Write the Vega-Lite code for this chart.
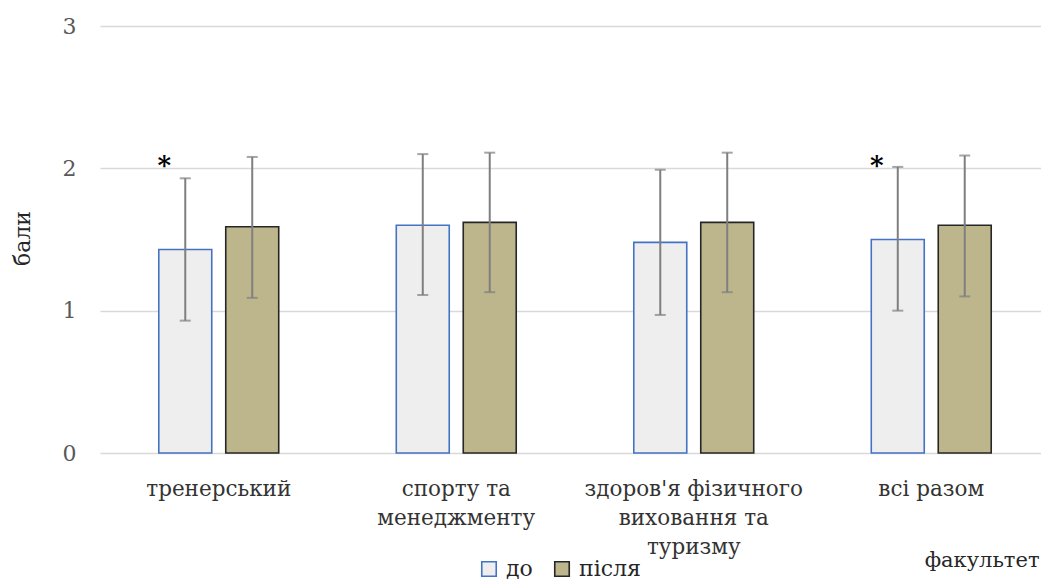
{
  "$schema": "https://vega.github.io/schema/vega-lite/v6.json",
  "width": 941,
  "height": 427,
  "autosize": {"type": "none"},
  "padding": {"left": 100, "top": 26, "right": 0, "bottom": 129},
  "background": "white",
  "config": {
    "view": {"stroke": null},
    "font": "DejaVu Serif"
  },
  "data": {
    "values": [
      {"faculty": "тренерський", "period": "до", "mean": 1.43, "lo": 0.93, "hi": 1.93, "star": "*"},
      {"faculty": "тренерський", "period": "після", "mean": 1.59, "lo": 1.09, "hi": 2.08, "star": ""},
      {"faculty": "спорту та менеджменту", "period": "до", "mean": 1.60, "lo": 1.11, "hi": 2.10, "star": ""},
      {"faculty": "спорту та менеджменту", "period": "після", "mean": 1.62, "lo": 1.13, "hi": 2.11, "star": ""},
      {"faculty": "здоров'я фізичного виховання та туризму", "period": "до", "mean": 1.48, "lo": 0.97, "hi": 1.99, "star": ""},
      {"faculty": "здоров'я фізичного виховання та туризму", "period": "після", "mean": 1.62, "lo": 1.13, "hi": 2.11, "star": ""},
      {"faculty": "всі разом", "period": "до", "mean": 1.50, "lo": 1.00, "hi": 2.01, "star": "*"},
      {"faculty": "всі разом", "period": "після", "mean": 1.60, "lo": 1.10, "hi": 2.09, "star": ""}
    ]
  },
  "encoding": {
    "x": {
      "field": "faculty",
      "type": "nominal",
      "sort": null,
      "scale": {"range": [0, 950], "paddingInner": 0.495, "paddingOuter": 0.2475},
      "axis": {
        "title": "факультет",
        "titleFont": "DejaVu Serif",
        "titleFontSize": 21,
        "titleFontWeight": "normal",
        "titleColor": "#262626",
        "titleAnchor": "end",
        "titleAlign": "right",
        "titleX": 939,
        "titleY": 113,
        "titleBaseline": "alphabetic",
        "labelAngle": 0,
        "labelFont": "DejaVu Serif",
        "labelFontSize": 21.5,
        "labelLimit": 400,
        "labelColor": "#333333",
        "labelLineHeight": 29,
        "labelPadding": 25,
        "labelBaseline": "top",
        "labelExpr": "datum.value == 'спорту та менеджменту' ? ['спорту та', 'менеджменту'] : datum.value == \"здоров'я фізичного виховання та туризму\" ? [\"здоров'я фізичного\", 'виховання та', 'туризму'] : datum.value",
        "ticks": false,
        "domain": false,
        "grid": false
      }
    },
    "xOffset": {
      "field": "period",
      "type": "nominal",
      "sort": ["до", "після"],
      "scale": {"paddingInner": 0.209, "paddingOuter": 0}
    }
  },
  "layer": [
    {
      "mark": {"type": "bar", "strokeWidth": 1.6},
      "encoding": {
        "y": {
          "field": "mean",
          "type": "quantitative",
          "scale": {"domain": [0, 3]},
          "axis": {
            "title": "бали",
            "titleFont": "DejaVu Serif",
            "titleFontSize": 22,
            "titleFontWeight": "normal",
            "titleColor": "#262626",
            "titleX": -71,
            "titleY": 212,
            "titleAlign": "center",
            "titleBaseline": "alphabetic",
            "titleAngle": -90,
            "values": [0, 1, 2, 3],
            "format": "d",
            "labelFont": "DejaVu Serif",
            "labelFontSize": 22,
            "labelColor": "#595959",
            "labelPadding": 24,
            "ticks": false,
            "domain": false,
            "grid": true,
            "gridColor": "#d9d9d9",
            "gridWidth": 1.3
          }
        },
        "fill": {
          "field": "period",
          "type": "nominal",
          "sort": ["до", "після"],
          "scale": {"domain": ["до", "після"], "range": ["#eeeeee", "#bdb68c"]},
          "legend": {
            "title": null,
            "orient": "none",
            "direction": "horizontal",
            "legendX": 378,
            "legendY": 532,
            "symbolType": "square",
            "symbolSize": 210,
            "symbolStrokeWidth": 1.6,
            "labelFont": "DejaVu Serif",
            "labelFontSize": 22,
            "labelColor": "#262626",
            "labelOffset": 6,
            "columnPadding": 18
          }
        },
        "stroke": {
          "field": "period",
          "type": "nominal",
          "sort": ["до", "після"],
          "scale": {"domain": ["до", "після"], "range": ["#4472c4", "#262626"]},
          "legend": {
            "title": null,
            "orient": "none",
            "direction": "horizontal",
            "legendX": 378,
            "legendY": 532,
            "symbolType": "square",
            "symbolSize": 210,
            "symbolStrokeWidth": 1.6,
            "labelFont": "DejaVu Serif",
            "labelFontSize": 22,
            "labelColor": "#262626",
            "labelOffset": 6,
            "columnPadding": 18
          }
        }
      }
    },
    {
      "mark": {"type": "rule", "color": "#7f7f7f", "strokeWidth": 2},
      "encoding": {
        "y": {"field": "lo", "type": "quantitative"},
        "y2": {"field": "hi"}
      }
    },
    {
      "mark": {"type": "tick", "color": "#7f7f7f", "thickness": 2, "size": 11, "orient": "horizontal"},
      "encoding": {
        "y": {"field": "hi", "type": "quantitative"}
      }
    },
    {
      "mark": {"type": "tick", "color": "#7f7f7f", "thickness": 2, "size": 11, "orient": "horizontal"},
      "encoding": {
        "y": {"field": "lo", "type": "quantitative"}
      }
    },
    {
      "transform": [{"filter": "datum.star != ''"}],
      "mark": {"type": "text", "font": "DejaVu Serif", "fontSize": 26, "fontWeight": "bold", "color": "#000000", "dx": -21, "baseline": "alphabetic", "align": "center"},
      "encoding": {
        "y": {"datum": 1.96, "type": "quantitative"},
        "text": {"field": "star"}
      }
    }
  ]
}
